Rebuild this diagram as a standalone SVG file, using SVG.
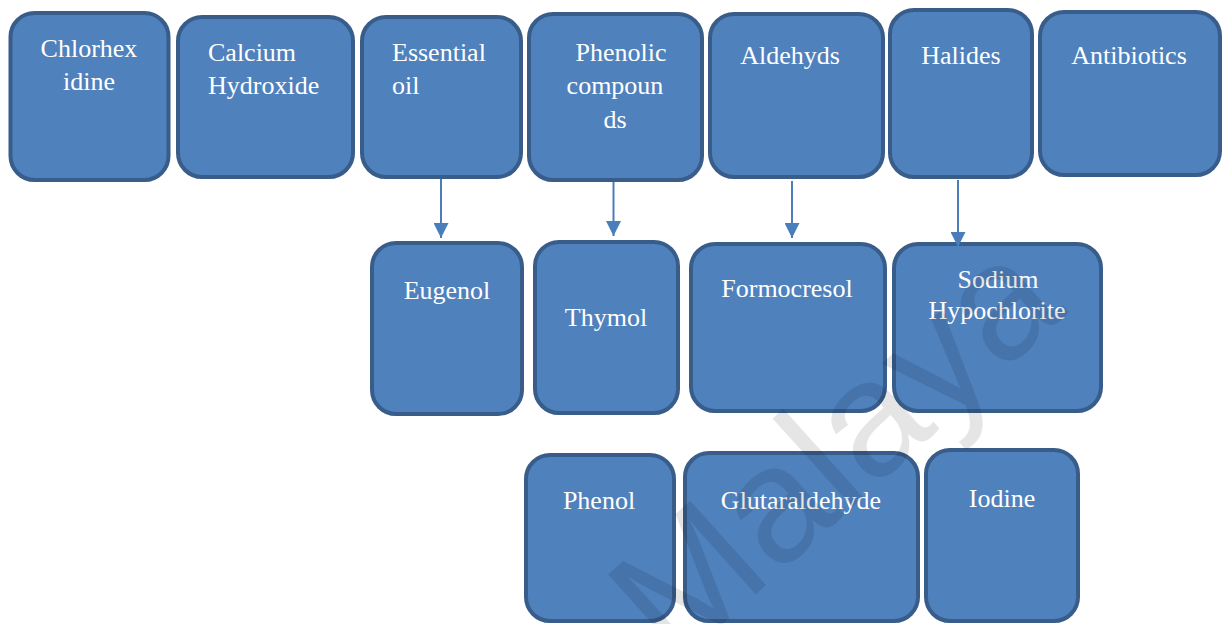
<svg xmlns="http://www.w3.org/2000/svg" width="1225" height="624" viewBox="0 0 1225 624">
<defs>
<style>
.box{fill:#4F81BD;stroke:#385D8A;stroke-width:4}
.conn{stroke:#4A7EBB;stroke-width:2;fill:none}
</style>
<marker id="ah" viewBox="0 0 10 10" refX="10" refY="5" markerWidth="15" markerHeight="15" markerUnits="userSpaceOnUse" orient="auto">
<path d="M0,0 L10,5 L0,10 z" fill="#4A7EBB"/>
</marker>
</defs>
<rect width="1225" height="624" fill="#ffffff"/>
<g id="chlorhexidine"><rect class="box" x="10.5" y="13" width="158" height="167" rx="24"/>
<text x="89" y="57" font-family="Liberation Serif" font-size="26" fill="#ffffff" text-anchor="middle">Chlorhex</text><text x="89" y="90" font-family="Liberation Serif" font-size="26" fill="#ffffff" text-anchor="middle">idine</text></g>
<g id="calcium-hydroxide"><rect class="box" x="178" y="17" width="175" height="160" rx="24"/>
<text x="208" y="61" font-family="Liberation Serif" font-size="26" fill="#ffffff">Calcium</text><text x="208" y="94" font-family="Liberation Serif" font-size="26" fill="#ffffff">Hydroxide</text></g>
<g id="essential-oil"><rect class="box" x="362" y="17" width="159" height="160" rx="24"/>
<text x="392" y="61" font-family="Liberation Serif" font-size="26" fill="#ffffff">Essential</text><text x="392" y="94" font-family="Liberation Serif" font-size="26" fill="#ffffff">oil</text></g>
<g id="phenolic-compounds"><rect class="box" x="529" y="14" width="173" height="166" rx="24"/>
<text x="621" y="61" font-family="Liberation Serif" font-size="26" fill="#ffffff" text-anchor="middle">Phenolic</text><text x="615" y="94" font-family="Liberation Serif" font-size="26" fill="#ffffff" text-anchor="middle">compoun</text><text x="615" y="128" font-family="Liberation Serif" font-size="26" fill="#ffffff" text-anchor="middle">ds</text></g>
<g id="aldehyds"><rect class="box" x="710" y="14" width="173" height="163" rx="24"/>
<text x="790" y="64" font-family="Liberation Serif" font-size="26" fill="#ffffff" text-anchor="middle">Aldehyds</text></g>
<g id="halides"><rect class="box" x="890" y="10" width="142" height="167" rx="24"/>
<text x="961" y="64" font-family="Liberation Serif" font-size="26" fill="#ffffff" text-anchor="middle">Halides</text></g>
<g id="antibiotics"><rect class="box" x="1040" y="12" width="180" height="163" rx="24"/>
<text x="1129" y="64" font-family="Liberation Serif" font-size="26" fill="#ffffff" text-anchor="middle">Antibiotics</text></g>

<g id="eugenol"><rect class="box" x="372" y="243" width="150" height="171" rx="24"/>
<text x="447" y="299" font-family="Liberation Serif" font-size="26" fill="#ffffff" text-anchor="middle">Eugenol</text></g>
<g id="thymol"><rect class="box" x="535" y="242" width="143" height="171" rx="24"/>
<text x="606" y="326" font-family="Liberation Serif" font-size="26" fill="#ffffff" text-anchor="middle">Thymol</text></g>
<g id="formocresol"><rect class="box" x="691" y="244" width="194" height="167" rx="24"/>
<text x="787" y="297" font-family="Liberation Serif" font-size="26" fill="#ffffff" text-anchor="middle">Formocresol</text></g>
<g id="sodium-hypochlorite"><rect class="box" x="894" y="244" width="207" height="167" rx="24"/>
<text x="998" y="288" font-family="Liberation Serif" font-size="26" fill="#ffffff" text-anchor="middle">Sodium</text><text x="997" y="319" font-family="Liberation Serif" font-size="26" fill="#ffffff" text-anchor="middle">Hypochlorite</text></g>

<g id="phenol"><rect class="box" x="526" y="455" width="148" height="166" rx="24"/>
<text x="599" y="509" font-family="Liberation Serif" font-size="26" fill="#ffffff" text-anchor="middle">Phenol</text></g>
<g id="glutaraldehyde"><rect class="box" x="685" y="453" width="233" height="168" rx="24"/>
<text x="801" y="509" font-family="Liberation Serif" font-size="26" fill="#ffffff" text-anchor="middle">Glutaraldehyde</text></g>
<g id="iodine"><rect class="box" x="926" y="450" width="152" height="171" rx="24"/>
<text x="1002" y="507" font-family="Liberation Serif" font-size="26" fill="#ffffff" text-anchor="middle">Iodine</text></g>

<g id="connectors">
<line class="conn" x1="441" y1="179" x2="441" y2="238" marker-end="url(#ah)"/>
<line class="conn" x1="613.5" y1="182" x2="613.5" y2="236" marker-end="url(#ah)"/>
<line class="conn" x1="792" y1="181" x2="792" y2="238" marker-end="url(#ah)"/>
<line class="conn" x1="958" y1="180" x2="958" y2="247" marker-end="url(#ah)"/>
</g>

<text font-family="Liberation Sans" font-size="165" fill="#000000" fill-opacity="0.1" transform="translate(674,668) rotate(-42)">Malaya</text>
</svg>
